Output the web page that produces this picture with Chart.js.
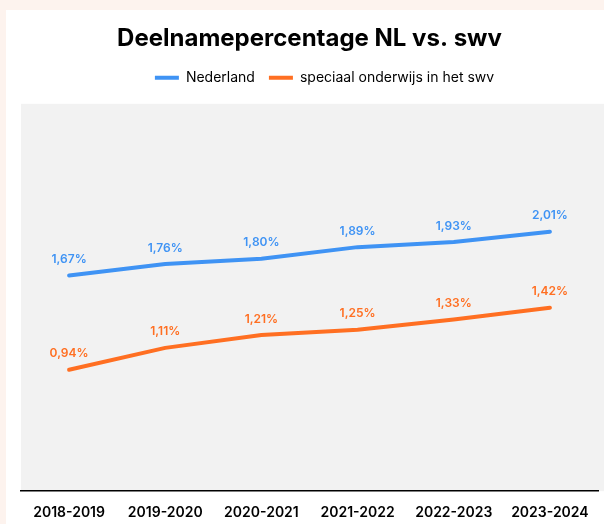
<!DOCTYPE html>
<html>
<head>
<meta charset="utf-8">
<script src="https://cdn.jsdelivr.net/npm/chart.js@4"></script>
<style>
  html, body { margin: 0; padding: 0; background: #fdf3ee; }
  #card { position: absolute; left: 6px; top: 10px; width: 598px; height: 514px; background: #ffffff; }
</style>
</head>
<body>
<div id="card"><canvas id="chart" width="598" height="514"></canvas></div>
<script>
// Chart data
const categories = ['2018-2019', '2019-2020', '2020-2021', '2021-2022', '2022-2023', '2023-2024'];
const nederland = [1.67, 1.76, 1.80, 1.89, 1.93, 2.01];
const swv = [0.94, 1.11, 1.21, 1.25, 1.33, 1.42];
const seriesNames = ['Nederland', 'speciaal onderwijs in het swv'];
const seriesColors = ['#3f93f4', '#ff6f22'];

// gray plot background
const plotBackground = {
  id: 'plotBackground',
  beforeDraw(chart) {
    const { ctx, chartArea } = chart;
    ctx.save();
    ctx.fillStyle = '#f2f2f2';
    ctx.fillRect(chartArea.left, chartArea.top, chart.width - chartArea.left, chartArea.bottom - chartArea.top);
    ctx.restore();
  }
};

// extra space under the legend, and nudge it a bit to the right
const legendGap = {
  id: 'legendGap',
  beforeInit(chart) {
    const fit = chart.legend.fit;
    chart.legend.fit = function () {
      fit.bind(chart.legend)();
      this.height += 9;
    };
  },
  afterLayout(chart) {
    chart.legend.left += 15;
    chart.legend.right += 15;
    chart.legend.legendHitBoxes.forEach(b => { b.left += 15; });
  }
};

// value labels above each point
const valueLabels = {
  id: 'valueLabels',
  afterDatasetsDraw(chart) {
    const ctx = chart.ctx;
    ctx.save();
    ctx.font = '600 12px Inter';
    ctx.textAlign = 'center';
    ctx.textBaseline = 'bottom';
    chart.data.datasets.forEach((ds, i) => {
      const meta = chart.getDatasetMeta(i);
      ctx.fillStyle = ds.borderColor;
      meta.data.forEach((pt, j) => {
        const txt = ds.data[j].toFixed(2).replace('.', ',') + '%';
        ctx.fillText(txt, pt.x, pt.y - 10);
      });
    });
    ctx.restore();
  }
};

new Chart(document.getElementById('chart'), {
  type: 'line',
  data: {
    labels: categories,
    datasets: [
      { label: seriesNames[0], data: nederland, borderColor: seriesColors[0], backgroundColor: seriesColors[0] },
      { label: seriesNames[1], data: swv, borderColor: seriesColors[1], backgroundColor: seriesColors[1] }
    ]
  },
  options: {
    responsive: false,
    animation: false,
    layout: { padding: { left: 15, right: 6, top: 0, bottom: -10 } },
    elements: {
      line: { borderWidth: 4, tension: 0, borderCapStyle: 'round', borderJoinStyle: 'round' },
      point: { radius: 0 }
    },
    plugins: {
      title: {
        display: true,
        text: 'Deelnamepercentage NL vs. swv',
        color: '#000',
        font: { family: 'Inter', size: 24, weight: 'bold' },
        padding: { top: 14, bottom: 4 }
      },
      legend: {
        labels: {
          color: '#111',
          font: { family: 'Inter', size: 14 },
          boxWidth: 24,
          boxHeight: 4,
          padding: 14,
          generateLabels(chart) {
            return chart.data.datasets.map((ds, i) => ({
              text: ds.label,
              fillStyle: ds.borderColor,
              strokeStyle: ds.borderColor,
              lineWidth: 0,
              datasetIndex: i
            }));
          }
        }
      },
      tooltip: { enabled: false }
    },
    scales: {
      x: {
        offset: true,
        grid: { display: false, drawTicks: false },
        border: { display: true, color: '#000', width: 1.5 },
        ticks: { color: '#000', font: { family: 'Inter', size: 14, weight: '600' }, padding: 13, maxRotation: 0 }
      },
      y: {
        min: 0,
        max: 3.0,
        display: false
      }
    }
  },
  plugins: [plotBackground, legendGap, valueLabels]
});
</script>
</body>
</html>
